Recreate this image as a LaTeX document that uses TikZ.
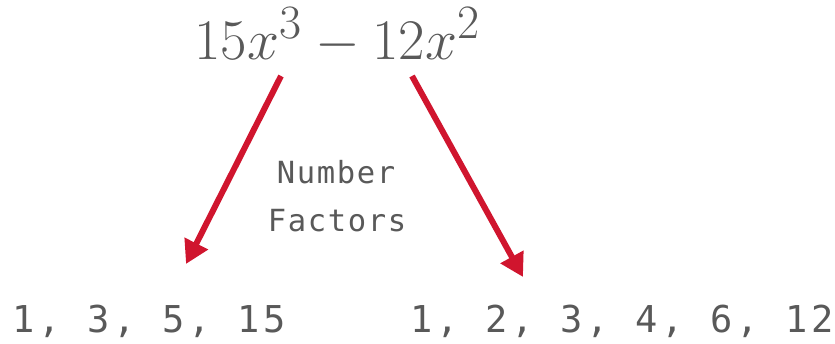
\documentclass[tikz,border=0pt]{standalone}
\usepackage{fontspec}
\usetikzlibrary{arrows.meta}
\newfontfamily\midmono[LetterSpace=5.4]{DejaVu Sans Mono}
\newfontfamily\lowmono[LetterSpace=11]{DejaVu Sans Mono}
\definecolor{txtgray}{RGB}{89,89,89}
\definecolor{arrred}{RGB}{208,21,46}
\tikzset{
  exprtext/.style={inner sep=0pt, anchor=base west, text=txtgray,
    font=\Huge, scale=2.31},
  midtext/.style={inner sep=0pt, anchor=base, text=txtgray,
    font=\midmono\fontsize{30.5}{34}\selectfont},
  lowtext/.style={inner sep=0pt, anchor=base west, text=txtgray,
    font=\lowmono\fontsize{37}{40}\selectfont},
  factorarrow/.style={draw=arrred, line width=6pt,
    -{Triangle[length=23pt,width=25pt]}}
}
\begin{document}
\begin{tikzpicture}[x=1pt,y=1pt]
  \useasboundingbox (0,0) rectangle (835,343);
  \node[exprtext] (expr) at (194,283.5) {$15x^3-12x^2$};
  \node[midtext] (num) at (336,159) {Number};
  \node[midtext] (fac) at (337,112) {Factors};
  \node[lowtext] (lista) at (12,11) {1, 3, 5, 15};
  \node[lowtext] (listb) at (410,11) {1, 2, 3, 4, 6, 12};
  \coordinate (s1) at (281,267);
  \coordinate (e1) at (186,79);
  \coordinate (s2) at (412,267);
  \coordinate (e2) at (523,66);
  \draw[factorarrow] (s1) -- (e1);
  \draw[factorarrow] (s2) -- (e2);
\end{tikzpicture}
\end{document}
